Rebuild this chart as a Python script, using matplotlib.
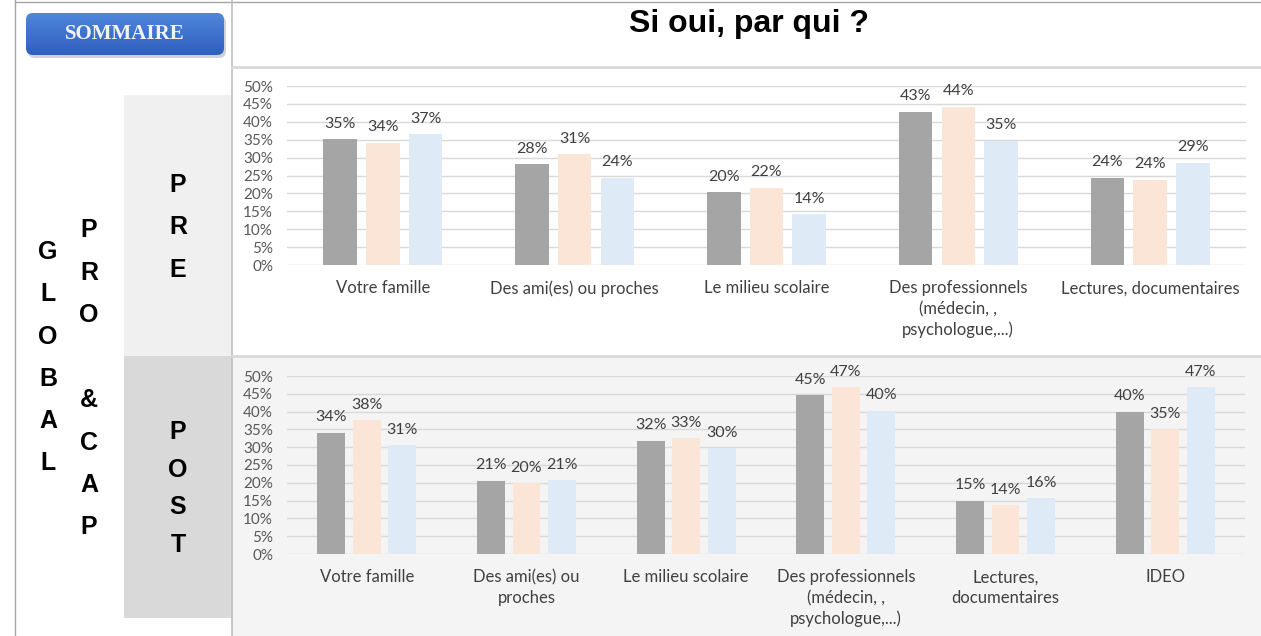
import numpy as np
import matplotlib
matplotlib.use('Agg')
import matplotlib.pyplot as plt
from matplotlib.patches import Rectangle, FancyBboxPatch
from matplotlib.colors import LinearSegmentedColormap
from matplotlib.ticker import FuncFormatter

W, H = 1261, 636

title = 'Si oui, par qui ?'
button_text = 'SOMMAIRE'

pre_categories = ['Votre famille', 'Des ami(es) ou proches', 'Le milieu scolaire',
                  'Des professionnels\n(médecin, ,\npsychologue,...)',
                  'Lectures, documentaires']
pre_s1 = [35.1, 28.2, 20.3, 42.8, 24.4]
pre_s2 = [34.2, 31.0, 21.6, 44.2, 23.8]
pre_s3 = [36.6, 24.4, 14.2, 34.7, 28.6]

post_categories = ['Votre famille', 'Des ami(es) ou\nproches', 'Le milieu scolaire',
                   'Des professionnels\n(médecin, ,\npsychologue,...)',
                   'Lectures,\ndocumentaires', 'IDEO']
post_s1 = [34.1, 20.6, 31.8, 44.6, 15.0, 40.0]
post_s2 = [37.6, 19.9, 32.6, 46.8, 13.8, 35.1]
post_s3 = [30.6, 20.8, 29.7, 40.3, 15.6, 46.8]

yticks = list(range(0, 51, 5))

bar_colors = ['#a5a5a5', '#fbe5d6', '#deebf7']
text_color = '#404040'
font = 'Lato'
bold_font = 'Liberation Sans'

plt.rcParams['font.family'] = [font, 'DejaVu Sans']


def px_axes(fig, left, top, right, bottom):
    '''Axes placed with pixel coordinates (origin top-left).'''
    return fig.add_axes([left / W, 1 - bottom / H, (right - left) / W, (bottom - top) / H])


def draw_chart(ax, categories, series):
    x = np.arange(len(categories)) + 0.5
    offsets = [-0.223, 0.0, 0.223]
    for vals, off, color in zip(series, offsets, bar_colors):
        bars = ax.bar(x + off, vals, width=0.175, color=color, zorder=2)
        ax.bar_label(bars, labels=['{:.0f}%'.format(v) for v in vals],
                     padding=6, fontsize=11.5, color=text_color)
    ax.set_xlim(0, len(categories))
    ax.set_ylim(0, 50)
    ax.set_yticks(yticks)
    ax.yaxis.set_major_formatter(FuncFormatter(lambda v, _: '{:.0f}%'.format(v)))
    ax.set_xticks(x, categories)
    ax.tick_params(axis='y', length=0, pad=10, labelsize=11, labelcolor='#595959')
    ax.tick_params(axis='x', length=0, pad=11, labelsize=12, labelcolor=text_color)
    for lbl in ax.get_xticklabels():
        lbl.set_linespacing(1.35)
    ax.grid(axis='y', color='#d9d9d9', lw=1, zorder=0)
    ax.set_axisbelow(True)
    for s in ax.spines.values():
        s.set_visible(False)
    ax.set_facecolor('none')


fig = plt.figure(figsize=(W / 100, H / 100), dpi=100)

# background layer in pixel coordinates
bg = fig.add_axes([0, 0, 1, 1])
bg.set_xlim(0, W)
bg.set_ylim(H, 0)
bg.axis('off')

bg.add_patch(Rectangle((232, 356), W - 232, H - 356, fc='#f4f4f4', ec='none'))
bg.add_patch(Rectangle((124, 95), 108, 261, fc='#f0f0f0', ec='none'))
bg.add_patch(Rectangle((124, 356), 108, 262, fc='#d9d9d9', ec='none'))

bg.plot([15, W], [2, 2], color='#a6a6a6', lw=1)
bg.plot([15, 15], [0, H], color='#a6a6a6', lw=1)
bg.plot([232, 232], [0, H], color='#bfbfbf', lw=1.2)
bg.plot([232, W], [67, 67], color='#d9d9d9', lw=2)
bg.plot([232, W], [356, 356], color='#d9d9d9', lw=2)

# SOMMAIRE button
shadow = FancyBboxPatch((28, 16), 198, 42, boxstyle='round,pad=0,rounding_size=7',
                        fc='#7f7f7f', ec='none', alpha=0.35)
bg.add_patch(shadow)
btn = FancyBboxPatch((26, 13), 198, 42, boxstyle='round,pad=0,rounding_size=7',
                     fc='none', ec='none')
bg.add_patch(btn)
grad = np.linspace(0, 1, 64).reshape(-1, 1)
cmap = LinearSegmentedColormap.from_list('btn', ['#4f86db', '#2f5fc0'])
im = bg.imshow(grad, cmap=cmap, extent=(26, 224, 55, 13), origin='upper',
               aspect='auto', zorder=2)
im.set_clip_path(btn)
bg.set_xlim(0, W)
bg.set_ylim(H, 0)
bg.text(125, 34, button_text, family='Liberation Serif', weight='bold', fontsize=15,
        color='#f2f2f2', ha='center', va='center', zorder=3)

# title
bg.text(749, 24, title, family='Liberation Sans', weight='bold', fontsize=23,
        color='black', ha='center', va='center')

# vertical letter labels
letter_cols = [
    ('GLOBAL', 48, 252, 42.3),
    ('PRO &CAP', 89, 230, 42.5),
    ('PRE', 178, 185, 42.5),
    ('POST', 178, 432, 37.7),
]
for word, xpos, y0, step in letter_cols:
    for i, ch in enumerate(word):
        if ch.strip():
            bg.text(xpos, y0 + i * step, ch, family=bold_font, weight='bold', fontsize=18,
                    color='black', ha='center', va='center')

# charts
ax_pre = px_axes(fig, 287, 86, 1246, 265)
draw_chart(ax_pre, pre_categories, [pre_s1, pre_s2, pre_s3])

ax_post = px_axes(fig, 287, 376, 1245, 554)
draw_chart(ax_post, post_categories, [post_s1, post_s2, post_s3])

fig.savefig('out.png', dpi=100)
